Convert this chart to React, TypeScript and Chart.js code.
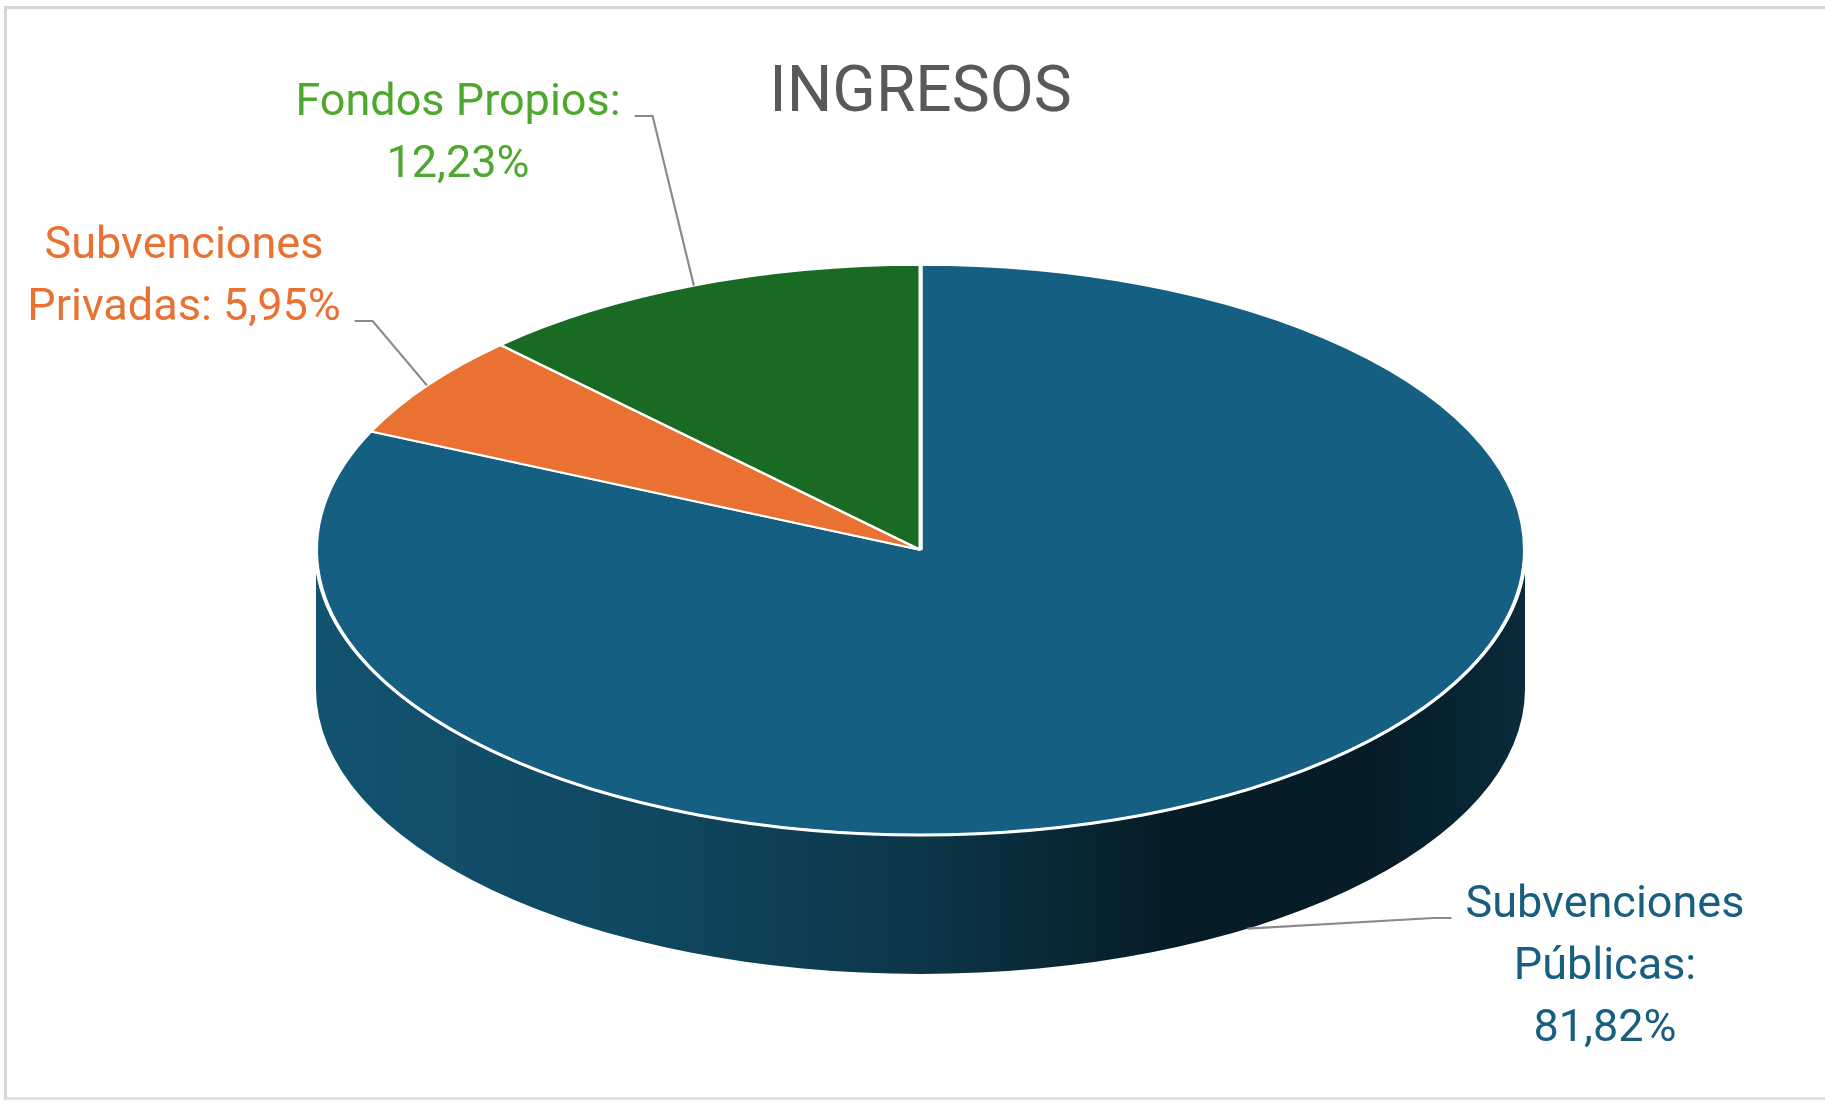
import React, { useEffect, useRef } from 'react';
import { Chart, registerables } from 'chart.js';

Chart.register(...registerables);

// ---------- data ----------
const TITLE = 'INGRESOS';
const categories = ['Subvenciones Públicas', 'Subvenciones Privadas', 'Fondos Propios'];
const values = [81.82, 5.95, 12.23];
// label lines per slice; {v} is replaced by the formatted value
const labelTemplates = [
  ['Subvenciones', 'Públicas:', '{v}'],
  ['Subvenciones', 'Privadas: {v}'],
  ['Fondos Propios:', '{v}'],
];
const sliceColors = ['#156082', '#E97132', '#196B24'];
const labelColors = ['#175E80', '#E97132', '#4EA72E'];

// ---------- layout / style ----------
const W = 1825;
const H = 1103;
const RADIUS = 604.5;
const TILT = 0.4715;
const DEPTH = 139;
const FONT = 'Roboto, "Open Sans", sans-serif';
const LABEL_SIZE = 45;
const LABEL_LINE = 62;
const labelAnchors = [
  { x: 1605, y: 917 },
  { x: 184, y: 258 },
  { x: 458, y: 115 },
];

const fmt = (v: number) => v.toFixed(2).replace('.', ',') + '%';

const shade = (hex: string, f: number) => {
  const n = parseInt(hex.slice(1), 16);
  const r = (n >> 16) & 255, g = (n >> 8) & 255, b = n & 255;
  return `rgb(${Math.round(r * f)},${Math.round(g * f)},${Math.round(b * f)})`;
};

const pie3d = {
  id: 'pie3d',
  beforeDatasetsDraw(chart: any) {
    const ctx = chart.ctx as CanvasRenderingContext2D;
    const arcs = chart.getDatasetMeta(0).data;
    if (!arcs.length) return;
    const { x: cx, y: cy, outerRadius: r } = arcs[0].getProps(['x', 'y', 'outerRadius'], true);
    const rx = r, ry = r * TILT;
    arcs.forEach((arc: any, i: number) => {
      const { startAngle, endAngle } = arc.getProps(['startAngle', 'endAngle'], true);
      for (const k of [-1, 0, 1]) {
        const lo = k * 2 * Math.PI;
        const a = Math.max(startAngle, lo);
        const b = Math.min(endAngle, lo + Math.PI);
        if (b <= a) continue;
        const grad = ctx.createLinearGradient(cx - rx, 0, cx + rx, 0);
        const base = sliceColors[i];
        grad.addColorStop(0, shade(base, 0.86));
        grad.addColorStop(0.28, shade(base, 0.74));
        grad.addColorStop(0.5, shade(base, 0.56));
        grad.addColorStop(0.7, shade(base, 0.3));
        grad.addColorStop(0.88, shade(base, 0.3));
        grad.addColorStop(1, shade(base, 0.45));
        ctx.save();
        ctx.beginPath();
        ctx.ellipse(cx, cy, rx, ry, 0, a, b);
        ctx.ellipse(cx, cy + DEPTH, rx, ry, 0, b, a, true);
        ctx.closePath();
        ctx.fillStyle = grad;
        ctx.fill();
        ctx.restore();
      }
    });
    ctx.save();
    ctx.translate(cx, cy);
    ctx.scale(1, TILT);
    ctx.translate(-cx, -cy);
  },
  afterDatasetsDraw(chart: any) {
    const ctx = chart.ctx as CanvasRenderingContext2D;
    ctx.restore();
    const arcs = chart.getDatasetMeta(0).data;
    if (!arcs.length) return;
    const { x: cx, y: cy, outerRadius: r } = arcs[0].getProps(['x', 'y', 'outerRadius'], true);
    const rx = r, ry = r * TILT;

    // white front rim between top face and side
    ctx.save();
    ctx.beginPath();
    ctx.ellipse(cx, cy, rx, ry, 0, 0, Math.PI);
    ctx.strokeStyle = '#ffffff';
    ctx.lineWidth = 3;
    ctx.stroke();
    ctx.restore();

    // labels + leader lines
    ctx.save();
    ctx.font = `${LABEL_SIZE}px ${FONT}`;
    ctx.textAlign = 'center';
    ctx.textBaseline = 'alphabetic';
    arcs.forEach((arc: any, i: number) => {
      const { startAngle, endAngle } = arc.getProps(['startAngle', 'endAngle'], true);
      const m = (startAngle + endAngle) / 2;
      const px = cx + rx * Math.cos(m);
      const py = cy + ry * Math.sin(m) + (Math.sin(m) > 0 ? DEPTH : 0);
      const lines = labelTemplates[i].map((t) => t.replace('{v}', fmt(values[i])));
      const anchor = labelAnchors[i];
      let wi = 0, ww = 0;
      lines.forEach((l, j) => {
        const w = ctx.measureText(l).width;
        if (w > ww) { ww = w; wi = j; }
      });
      const ay = anchor.y + wi * LABEL_LINE + 1;
      const right = px > anchor.x;
      const ax = right ? anchor.x + ww / 2 + 14 : anchor.x - ww / 2 - 14;
      const ex = right ? ax + 18 : ax - 18;
      ctx.beginPath();
      ctx.moveTo(ax, ay);
      ctx.lineTo(ex, ay);
      ctx.lineTo(px, py);
      ctx.strokeStyle = '#8a8a8a';
      ctx.lineWidth = 2.2;
      ctx.stroke();
      ctx.fillStyle = labelColors[i];
      lines.forEach((l, j) => ctx.fillText(l, anchor.x, anchor.y + j * LABEL_LINE));
    });
    ctx.restore();
  },
};

export default function App() {
  const ref = useRef<HTMLCanvasElement | null>(null);
  useEffect(() => {
    if (!ref.current) return;
    const chart = new Chart(ref.current, {
      type: 'pie',
      data: {
        labels: categories,
        datasets: [
          {
            data: values,
            backgroundColor: sliceColors,
            borderColor: '#ffffff',
            borderWidth: 4,
            radius: RADIUS,
            clip: false,
          } as any,
        ],
      },
      options: {
        responsive: false,
        animation: false,
        devicePixelRatio: 1,
        events: [],
        layout: { padding: { left: 16, right: 0, top: 0, bottom: 137 } },
        plugins: {
          legend: { display: false },
          tooltip: { enabled: false },
          title: {
            display: true,
            text: TITLE,
            color: '#595959',
            font: { family: FONT, size: 64, weight: 'normal', lineHeight: 1.2 },
            padding: { top: 57, bottom: 0 },
          },
        },
      } as any,
      plugins: [pie3d],
    });
    return () => chart.destroy();
  }, []);

  return (
    <div style={{ position: 'absolute', left: 0, top: 0, width: W, height: H, overflow: 'hidden', background: '#ffffff' }}>
      <div
        style={{
          position: 'absolute',
          left: 4,
          top: 6,
          width: W - 4,
          height: 1094,
          boxSizing: 'border-box',
          borderTop: '3px solid #d6d6d6',
          borderLeft: '3px solid #d6d6d6',
          borderBottom: '3px solid #e2e2e2',
        }}
      />
      <canvas ref={ref} width={W} height={H} style={{ position: 'absolute', left: 0, top: 0, display: 'block' }} />
    </div>
  );
}
